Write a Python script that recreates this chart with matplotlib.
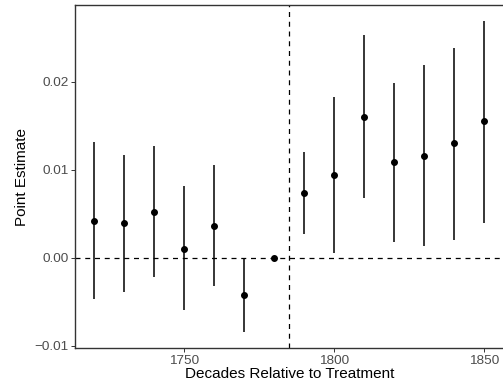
import matplotlib
matplotlib.use("Agg")
import matplotlib.pyplot as plt

plt.rcParams['font.family'] = ['Liberation Sans', 'DejaVu Sans']

decades = [1720, 1730, 1740, 1750, 1760, 1770, 1780, 1790, 1800, 1810, 1820, 1830, 1840, 1850]
estimate = [0.0042, 0.0039, 0.0052, 0.0010, 0.0036, -0.0042, 0.0000, 0.0073, 0.0094, 0.0160, 0.0109, 0.0116, 0.0130, 0.0155]
lower = [-0.0047, -0.0039, -0.0022, -0.0060, -0.0032, -0.0085, 0.0000, 0.0027, 0.0005, 0.0068, 0.0018, 0.0013, 0.0020, 0.0040]
upper = [0.0131, 0.0117, 0.0127, 0.0081, 0.0105, 0.0000, 0.0000, 0.0120, 0.0183, 0.0253, 0.0199, 0.0219, 0.0239, 0.0269]
treatment_year = 1785
xticks = [1750, 1800, 1850]
yticks = [-0.01, 0.00, 0.01, 0.02]
ytick_labels = ["\u22120.01", "0.00", "0.01", "0.02"]

W, H = 503, 389
fig = plt.figure(figsize=(W / 100, H / 100), dpi=100)
ax = fig.add_axes([75 / W, (H - 348) / H, 429 / W, (348 - 5.3) / H])

ax.axhline(0, color='black', lw=0.9, ls=(0, (4, 3.8)), zorder=1)
ax.axvline(treatment_year, color='black', lw=0.9, ls=(0, (4, 3.8)), zorder=1)

for x, lo, hi in zip(decades, lower, upper):
    if hi > lo:
        ax.plot([x, x], [lo, hi], color='black', lw=1.1, solid_capstyle='butt', zorder=2)
ax.plot(decades, estimate, 'o', color='black', ms=4.0, zorder=3)

ax.set_xlim(1713.5, 1856.5)
ax.set_ylim(-0.01027, 0.0287)
ax.set_xticks(xticks)
ax.set_xticklabels([str(t) for t in xticks])
ax.set_yticks(yticks)
ax.set_yticklabels(ytick_labels)
ax.tick_params(axis='both', colors='#333333', labelcolor='#4D4D4D', labelsize=9.7,
               length=2.75, width=0.7, pad=2)

for s in ['left', 'bottom', 'top', 'right']:
    ax.spines[s].set_color('#333333')
    ax.spines[s].set_linewidth(1.0)

ax.set_xlabel('Decades Relative to Treatment', fontsize=11, color='black', labelpad=0)
ax.set_ylabel('Point Estimate', fontsize=11, color='black', labelpad=4)

fig.savefig('out.png', dpi=100)
